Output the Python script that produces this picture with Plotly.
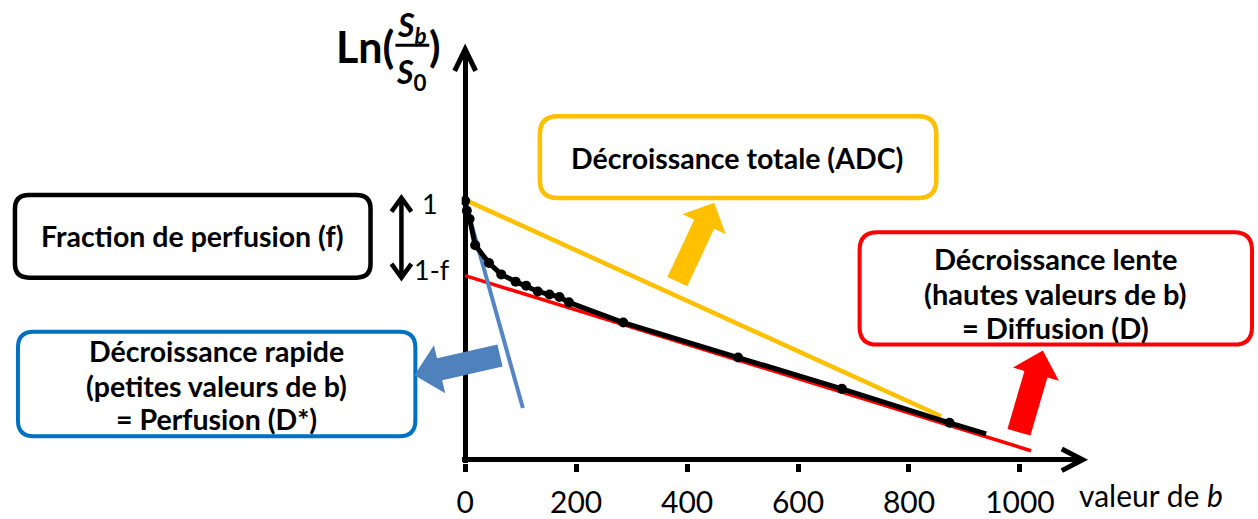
import math
import plotly.graph_objects as go

W, H = 1258, 519

# ---------------- data ----------------
b_points = [0, 3, 8, 18, 43, 65, 91, 110, 131, 152, 170, 187, 285, 492, 679, 873]
s_points = [1.00, 0.962, 0.93, 0.829, 0.760, 0.716, 0.688, 0.672, 0.650, 0.638,
            0.629, 0.608, 0.530, 0.395, 0.274, 0.143]
b_curve = b_points + [939]
s_curve = s_points + [0.100]

b_slow = [0, 1020]        # slow decay (diffusion, red)
s_slow = [0.711, 0.035]
b_total = [4, 858]        # total decay (ADC, yellow)
s_total = [1.0, 0.168]
b_fast = [1, 104]         # fast decay (perfusion, blue)
s_fast = [0.99, 0.20]

x_ticks = [0, 200, 400, 600, 800, 1000]
x_tick_labels = ["0", "200", "400", "600", "800", "1000"]

BLACK = "#000000"
RED = "#ff0000"
YELLOW = "#ffc000"
BLUE_LINE = "#5585c5"
BLUE_BOX = "#0070c0"
FONT = "Lato"

# ---------------- layout geometry (pixels) ----------------
ORIG_X, ORIG_Y = 462, 467     # where b=0, s=0 sits
X_END, Y_END = 1082, 50       # arrow tips
PAD = 3.5                     # domain starts slightly before the origin
PX_PER_B = 0.557
PX_PER_S = 263.0


def px(x):
    return x / W


def py(y):
    return 1 - y / H


def path_from(points, close=True):
    s = "M {:.5f},{:.5f}".format(px(points[0][0]), py(points[0][1]))
    for (x, y) in points[1:]:
        s += " L {:.5f},{:.5f}".format(px(x), py(y))
    if close:
        s += " Z"
    return s


def rrect(x0, y0, x1, y1, r):
    P = lambda x, y: "{:.5f},{:.5f}".format(px(x), py(y))
    return ("M " + P(x0 + r, y0) + " L " + P(x1 - r, y0) + " Q " + P(x1, y0) + " " + P(x1, y0 + r) +
            " L " + P(x1, y1 - r) + " Q " + P(x1, y1) + " " + P(x1 - r, y1) +
            " L " + P(x0 + r, y1) + " Q " + P(x0, y1) + " " + P(x0, y1 - r) +
            " L " + P(x0, y0 + r) + " Q " + P(x0, y0) + " " + P(x0 + r, y0) + " Z")


def block_arrow(tail, tip, shaft_half, head_half, head_len):
    dx, dy = tip[0] - tail[0], tip[1] - tail[1]
    L = math.hypot(dx, dy)
    ux, uy = dx / L, dy / L
    nx, ny = -uy, ux
    bx, by = tip[0] - ux * head_len, tip[1] - uy * head_len
    pts = [
        (tail[0] + nx * shaft_half, tail[1] + ny * shaft_half),
        (bx + nx * shaft_half, by + ny * shaft_half),
        (bx + nx * head_half, by + ny * head_half),
        tip,
        (bx - nx * head_half, by - ny * head_half),
        (bx - nx * shaft_half, by - ny * shaft_half),
        (tail[0] - nx * shaft_half, tail[1] - ny * shaft_half),
    ]
    return path_from(pts)


fig = go.Figure()

fig.add_trace(go.Scatter(x=b_slow, y=s_slow, mode="lines",
                         line=dict(color=RED, width=3.5), hoverinfo="skip"))
fig.add_trace(go.Scatter(x=b_total, y=s_total, mode="lines",
                         line=dict(color=YELLOW, width=4.5), hoverinfo="skip"))
fig.add_trace(go.Scatter(x=b_fast, y=s_fast, mode="lines",
                         line=dict(color=BLUE_LINE, width=4), hoverinfo="skip"))
fig.add_trace(go.Scatter(x=b_curve, y=s_curve, mode="lines",
                         line=dict(color=BLACK, width=5), hoverinfo="skip"))
fig.add_trace(go.Scatter(x=b_points, y=s_points, mode="markers",
                         marker=dict(color=BLACK, size=10), hoverinfo="skip"))

x_range = [-PAD / PX_PER_B, (X_END - ORIG_X) / PX_PER_B]
y_range = [-PAD / PX_PER_S, (ORIG_Y - Y_END) / PX_PER_S]

shapes = []
# axis arrow heads (open chevrons)
shapes.append(dict(type="path", xref="paper", yref="paper",
                   path=path_from([(451.5, 72), (462, 50), (472.5, 72)], close=False),
                   line=dict(color=BLACK, width=5)))
shapes.append(dict(type="path", xref="paper", yref="paper",
                   path=path_from([(1061, 456), (1082, 467), (1061, 478)], close=False),
                   line=dict(color=BLACK, width=5)))
# double arrow for f
shapes.append(dict(type="line", xref="paper", yref="paper",
                   x0=px(398), x1=px(398), y0=py(203), y1=py(280),
                   line=dict(color=BLACK, width=4.5)))
shapes.append(dict(type="path", xref="paper", yref="paper",
                   path=path_from([(388, 215), (398, 201), (408, 215)], close=False),
                   line=dict(color=BLACK, width=4.5)))
shapes.append(dict(type="path", xref="paper", yref="paper",
                   path=path_from([(388, 268), (398, 282), (408, 268)], close=False),
                   line=dict(color=BLACK, width=4.5)))
# boxes
shapes.append(dict(type="path", xref="paper", yref="paper", path=rrect(10, 198, 367, 282, 14),
                   line=dict(color=BLACK, width=4.5), fillcolor="white"))
shapes.append(dict(type="path", xref="paper", yref="paper", path=rrect(13, 337, 412, 443, 16),
                   line=dict(color=BLUE_BOX, width=4), fillcolor="white"))
shapes.append(dict(type="path", xref="paper", yref="paper", path=rrect(537, 118, 935, 201, 18),
                   line=dict(color=YELLOW, width=4.5), fillcolor="white"))
shapes.append(dict(type="path", xref="paper", yref="paper", path=rrect(858, 236, 1252, 350, 18),
                   line=dict(color=RED, width=4), fillcolor="white"))
# block arrows
shapes.append(dict(type="path", xref="paper", yref="paper",
                   path=block_arrow((675, 286), (712, 206), 11, 24, 24),
                   line=dict(width=0), fillcolor=YELLOW))
shapes.append(dict(type="path", xref="paper", yref="paper",
                   path=block_arrow((1018, 439), (1042, 356), 12, 24, 25),
                   line=dict(width=0), fillcolor=RED))
shapes.append(dict(type="path", xref="paper", yref="paper",
                   path=block_arrow((497, 361), (411, 381), 11.5, 25, 26),
                   line=dict(width=0), fillcolor="#4f81bd"))
# fraction bar for Ln(Sb/S0)
shapes.append(dict(type="line", xref="paper", yref="paper",
                   x0=px(392), x1=px(426), y0=py(46), y1=py(46),
                   line=dict(color=BLACK, width=3)))

annotations = []


def add_text(text, x, y, size, xanchor="center", color=BLACK):
    annotations.append(dict(text=text, x=px(x), y=py(y), xref="paper", yref="paper",
                            xanchor=xanchor, yanchor="middle", showarrow=False,
                            font=dict(family=FONT, size=size, color=color)))


BOX_FS = 28.5
add_text("<b>Fraction de perfusion (f)</b>", 188, 240, BOX_FS)
for txt, yy in [("Décroissance rapide", 357), ("(petites valeurs de b)", 392), ("= Perfusion (D*)", 426)]:
    add_text("<b>" + txt + "</b>", 212, yy, BOX_FS)
add_text("<b>Décroissance totale (ADC)</b>", 735, 160, BOX_FS)
for txt, yy in [("Décroissance lente", 263), ("(hautes valeurs de b)", 298), ("= Diffusion (D)", 333)]:
    add_text("<b>" + txt + "</b>", 1055, yy, BOX_FS + 0.5)
add_text("1", 427, 207, 27)
add_text("1-f", 429, 274, 27)
add_text("valeur de <i>b</i>", 1151, 503, 30)
add_text("<b>Ln(</b>", 393, 47, 43, xanchor="right")
add_text("<b>)</b>", 432, 47, 42)
add_text("<b><i>S</i><sub><i>b</i></sub></b>", 409, 27, 32)
add_text("<b><i>S</i><sub>0</sub></b>", 408, 75, 32)

fig.update_layout(
    width=W, height=H,
    margin=dict(l=0, r=0, t=0, b=0),
    paper_bgcolor="white", plot_bgcolor="white",
    showlegend=False,
    font=dict(family=FONT, color=BLACK),
    xaxis=dict(domain=[(ORIG_X - PAD) / W, X_END / W], range=x_range,
               showgrid=False, showline=False,
               zeroline=True, zerolinecolor=BLACK, zerolinewidth=5,
               ticks="outside", ticklen=8, tickwidth=5, tickcolor=BLACK,
               tickvals=x_ticks, ticktext=x_tick_labels,
               ticklabelstandoff=5,
               tickfont=dict(family=FONT, size=30, color=BLACK)),
    yaxis=dict(domain=[1 - (ORIG_Y + PAD) / H, 1 - Y_END / H], range=y_range,
               showgrid=False, showline=False,
               zeroline=True, zerolinecolor=BLACK, zerolinewidth=5,
               ticks="", showticklabels=False),
    shapes=shapes,
    annotations=annotations,
)

fig.write_html("out.html",
               config={"displayModeBar": False},
               post_script="document.body.style.margin='0';document.body.style.overflow='hidden';")
